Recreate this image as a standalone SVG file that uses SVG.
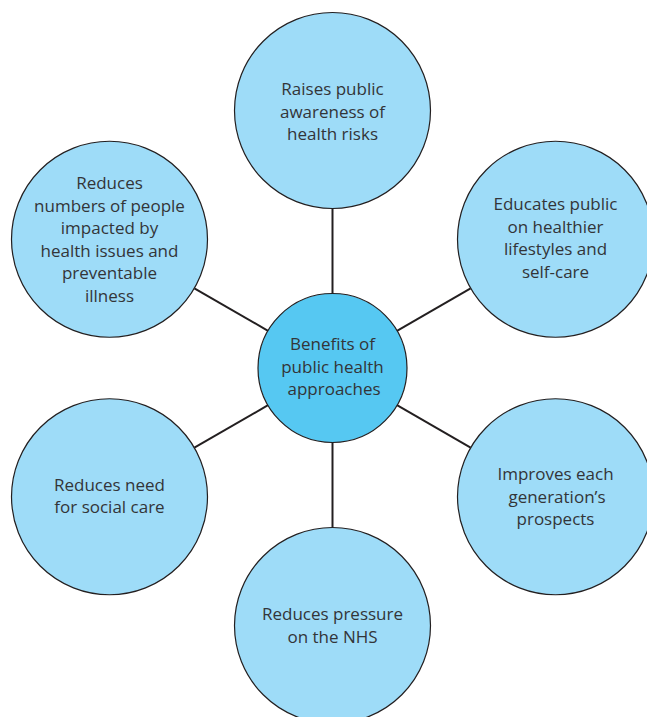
<svg xmlns="http://www.w3.org/2000/svg" width="647" height="717" viewBox="0 0 647 717">
<style>
.outer{fill:#9edcf8;stroke:#231f20;stroke-width:1.2}
.hub{fill:#56c8f2;stroke:#231f20;stroke-width:1.2}
.conn line{stroke:#231f20;stroke-width:2}
text{font-family:"Open Sans","Noto Sans","Liberation Sans",sans-serif;font-size:17px;fill:#333538;text-anchor:middle}
</style>
<rect width="647" height="717" fill="#ffffff"/>
<g id="connectors" class="conn">
<line x1="332.5" y1="208.5" x2="332.5" y2="293.5"/>
<line x1="332.5" y1="442.5" x2="332.5" y2="527.5"/>
<line x1="194.4" y1="288.3" x2="268" y2="330.8"/>
<line x1="470.6" y1="288.3" x2="397" y2="330.8"/>
<line x1="194.4" y1="447.7" x2="268" y2="405.2"/>
<line x1="470.6" y1="447.7" x2="397" y2="405.2"/>
</g>
<g id="top">
<circle class="outer" cx="332.5" cy="110.5" r="98"/>
<text x="332.5" y="95">Raises public</text>
<text x="332.5" y="117.5">awareness of</text>
<text x="332.5" y="140">health risks</text>
</g>
<g id="upper-right">
<circle class="outer" cx="555.5" cy="239.25" r="98"/>
<text x="555.5" y="210">Educates public</text>
<text x="555.5" y="232.5">on healthier</text>
<text x="555.5" y="255">lifestyles and</text>
<text x="555.5" y="277.5">self-care</text>
</g>
<g id="lower-right">
<circle class="outer" cx="555.5" cy="496.75" r="98"/>
<text x="555.5" y="480">Improves each</text>
<text x="557" y="502.5">generation’s</text>
<text x="555.5" y="525">prospects</text>
</g>
<g id="bottom">
<circle class="outer" cx="332.5" cy="625.5" r="98"/>
<text x="332.5" y="620">Reduces pressure</text>
<text x="332.5" y="642.5">on the NHS</text>
</g>
<g id="lower-left">
<circle class="outer" cx="109.5" cy="496.75" r="98"/>
<text x="109.5" y="490.5">Reduces need</text>
<text x="109.5" y="513">for social care</text>
</g>
<g id="upper-left">
<circle class="outer" cx="109.5" cy="239.25" r="98"/>
<text x="109.5" y="189">Reduces</text>
<text x="109.5" y="211.5">numbers of people</text>
<text x="109.5" y="234">impacted by</text>
<text x="109.5" y="256.5">health issues and</text>
<text x="109.5" y="279">preventable</text>
<text x="109.5" y="301.5">illness</text>
</g>
<g id="hub">
<circle class="hub" cx="332.5" cy="368" r="74.5"/>
<text x="332.5" y="350">Benefits of</text>
<text x="332.5" y="372.5">public health</text>
<text x="334" y="395">approaches</text>
</g>
</svg>
